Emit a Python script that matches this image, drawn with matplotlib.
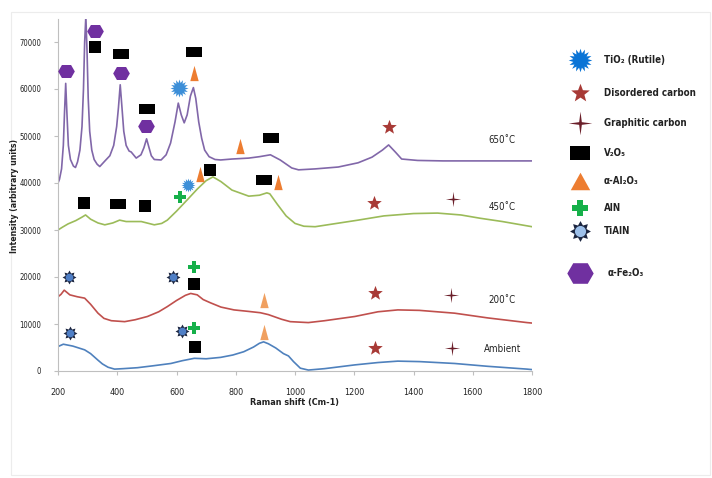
import numpy as np
import matplotlib
matplotlib.use("Agg")
import matplotlib.pyplot as plt
from matplotlib.patches import Rectangle

plt.rcParams['font.family'] = ['DejaVu Sans']
plt.rcParams['font.stretch'] = 'condensed'

# ---------------- data ----------------
x_650 = [200, 205, 212, 218, 222, 226, 230, 235, 242, 252, 259, 266, 274, 281, 286, 290, 294, 298, 302, 307,
         314, 322, 332, 341, 360, 375, 388, 398, 404, 410, 416, 422, 430, 440, 447, 464, 480, 490, 499, 506,
         515, 525, 548, 565, 580, 595, 606, 616, 626, 636, 647, 657, 665, 675, 685, 695, 710, 730, 749, 787,
         844, 880, 917, 950, 989, 1012, 1068, 1146, 1213, 1260, 1295, 1316, 1340, 1360, 1414, 1500, 1600,
         1700, 1800]
y_650 = [40000, 40800, 43000, 48000, 55000, 61200, 55000, 48000, 45000, 43600, 43300, 44500, 47000, 52000,
         60000, 70000, 75500, 68000, 58000, 51000, 47000, 45000, 44000, 43500, 44800, 45800, 48000, 52000,
         56000, 60900, 56000, 51000, 48000, 46800, 46600, 45300, 46000, 47500, 49400, 47800, 45800, 45000,
         44900, 46000, 48500, 53000, 57000, 54500, 52800, 54500, 58500, 60300, 58000, 53000, 49500, 47000,
         45600, 45000, 44900, 45100, 45300, 45600, 46000, 44900, 43200, 42800, 43000, 43400, 44300, 45500,
         47000, 48100, 46500, 45100, 44800, 44700, 44700, 44700, 44700]

x_450 = [200, 215, 234, 260, 280, 293, 310, 335, 358, 385, 408, 430, 481, 525, 550, 569, 600, 636, 670, 700,
         723, 750, 787, 844, 880, 905, 915, 940, 970, 1000, 1030, 1068, 1130, 1213, 1300, 1400, 1481, 1560,
         1625, 1700, 1800]
y_450 = [30000, 30600, 31300, 32000, 32700, 33200, 32300, 31500, 31100, 31500, 32100, 31800, 31800, 31100,
         31400, 32100, 34000, 36400, 38700, 40500, 41300, 40300, 38500, 37200, 37400, 37900, 37700, 35500,
         33000, 31400, 30800, 30700, 31300, 32100, 33000, 33500, 33600, 33200, 32500, 31800, 30700]

x_200 = [200, 210, 221, 240, 265, 290, 310, 335, 355, 380, 425, 460, 502, 540, 569, 600, 630, 648, 670, 690,
         715, 750, 794, 840, 883, 910, 928, 955, 984, 1045, 1100, 1202, 1280, 1347, 1420, 1539, 1650, 1783, 1800]
y_200 = [15800, 16300, 17200, 16200, 15800, 15500, 14200, 12300, 11200, 10700, 10500, 10900, 11600, 12600,
         13700, 15000, 16100, 16500, 16200, 15200, 14500, 13600, 13000, 12700, 12400, 12000, 11600, 11000,
         10500, 10300, 10700, 11600, 12600, 13000, 12900, 12300, 11300, 10300, 10200]

x_amb = [200, 218, 250, 290, 310, 335, 350, 369, 391, 420, 468, 520, 581, 620, 660, 700, 749, 790, 827, 860,
         880, 894, 910, 935, 961, 978, 995, 1018, 1045, 1100, 1202, 1280, 1347, 1420, 1539, 1650, 1783, 1800]
y_amb = [5200, 5700, 5300, 4500, 3700, 2300, 1500, 800, 400, 500, 700, 1100, 1600, 2200, 2700, 2600, 2900,
         3400, 4100, 5100, 5900, 6200, 5800, 4900, 3700, 3200, 2000, 600, 200, 500, 1300, 1800, 2100, 2000,
         1600, 1000, 400, 300]

series_labels = ['650˚C', '450˚C', '200˚C', 'Ambient']
series_label_y = [49100, 35000, 15100, 4600]

# annotation marker positions (Raman shift, intensity)
fe2o3_x = [226, 324, 411, 498]
fe2o3_y = [63800, 72300, 63400, 52100]
v2o5_sq_x = [324, 288, 494, 713, 660, 662]
v2o5_sq_y = [68900, 35700, 35100, 42800, 18600, 5200]
v2o5_rect_x = [414, 499, 660, 920, 402, 894]
v2o5_rect_y = [67400, 55700, 67800, 49600, 35500, 40600]
tio2_x = [607, 640]
tio2_y = [60300, 39600]
al2o3_x = [660, 816, 680, 941, 897, 897]
al2o3_y = [63500, 47900, 41900, 40300, 15100, 8400]
aln_x = [611, 660, 660]
aln_y = [37000, 22100, 9100]
tialn_x = [237, 587, 240, 617]
tialn_y = [19900, 20100, 8000, 8600]
dcarb_x = [1316, 1267, 1271, 1269]
dcarb_y = [52000, 35700, 16500, 5000]
gcarb_x = [1532, 1526, 1529]
gcarb_y = [36600, 16200, 4800]

legend_labels = ['TiO₂ (Rutile)', 'Disordered carbon', 'Graphitic carbon', 'V₂O₅',
                 'α-Al₂O₃', 'AlN', 'TiAlN', 'α-Fe₂O₃']

x_ticks = [200, 400, 600, 800, 1000, 1200, 1400, 1600, 1800]
y_ticks = [0, 10000, 20000, 30000, 40000, 50000, 60000, 70000]

# ---------------- marker shapes ----------------
def star_verts(n, inner, rot=np.pi / 2):
    ang = np.arange(2 * n) * np.pi / n + rot
    r = np.where(np.arange(2 * n) % 2 == 0, 1.0, inner)
    return list(zip(r * np.cos(ang), r * np.sin(ang)))

BURST = star_verts(16, 0.62)
STAR5 = star_verts(5, 0.42)
STAR4 = star_verts(4, 0.16)
STAR8 = star_verts(8, 0.62)
HEX = [(-1, 0), (-0.55, 0.78), (0.55, 0.78), (1, 0), (0.55, -0.78), (-0.55, -0.78)]
SQ = [(-1, -1), (1, -1), (1, 1), (-1, 1)]
RECT = [(-1, -0.68), (1, -0.68), (1, 0.68), (-1, 0.68)]
TRI_N = [(-0.55, -1), (0.55, -1), (0, 1)]
TRI = [(-1, -0.9), (1, -0.9), (0, 0.9)]

C_FE = '#7030a0'
C_TIO2 = '#3d8fd8'
C_TIO2_LEG = '#0a74d6'
C_AL = '#ed7d31'
C_ALN = '#16b04a'
C_DC = '#a83a36'
C_GC = '#6b1f2a'
C_TIALN = '#4f7fc6'
C_TIALN_EDGE = '#1b2540'
TXT = '#222222'

fig = plt.figure(figsize=(7.12, 4.78), dpi=100)
ax = fig.add_axes([58 / 712, 1 - 371 / 478, (532 - 58) / 712, (371 - 18.5) / 478])

line_cols = ['#8167a9', '#9bbb59', '#c0504d', '#4f81bd']
for xs, ys, c in zip([x_650, x_450, x_200, x_amb], [y_650, y_450, y_200, y_amb], line_cols):
    ax.plot(xs, ys, color=c, lw=1.2, solid_joinstyle='round')

ax.set_xlim(200, 1800)
ax.set_ylim(0, 75000)
ax.set_xticks(x_ticks)
ax.set_yticks(y_ticks)
ax.set_xticklabels([str(v) for v in x_ticks])
ax.set_yticklabels([str(v) for v in y_ticks])
for s in ['top', 'right']:
    ax.spines[s].set_visible(False)
for s in ['left', 'bottom']:
    ax.spines[s].set_color('#bfbfbf')
    ax.spines[s].set_linewidth(0.8)
ax.tick_params(axis='both', colors='#bfbfbf', length=3, width=0.8, labelcolor=TXT)
ax.tick_params(axis='x', pad=9, labelsize=6.5)
ax.tick_params(axis='y', pad=9, labelsize=5.5)
ax.set_xlabel('Raman shift (Cm-1)', fontsize=6.5, fontweight='bold', labelpad=1, color=TXT)
fig.text(15 / 712, 1 - 196 / 478, 'Intensity (arbitrary units)', rotation=90, fontsize=6.3,
         fontweight='bold', ha='center', va='center', color=TXT)

for lab, yv in zip(series_labels, series_label_y):
    ax.text(1700, yv, lab, fontsize=7, ha='center', va='center', color=TXT, clip_on=False)

def mk(xs, ys, verts, ms, fc, ec='none', mew=0.0, z=5, axx=None):
    (axx or ax).plot(xs, ys, ls='none', marker=verts, ms=ms, mfc=fc, mec=ec, mew=mew, zorder=z, clip_on=False)

mk(fe2o3_x, fe2o3_y, HEX, 12, C_FE)
mk(v2o5_sq_x, v2o5_sq_y, SQ, 9, 'black')
mk(v2o5_rect_x, v2o5_rect_y, RECT, 11, 'black')
mk(tio2_x[:1], tio2_y[:1], BURST, 13, C_TIO2)
mk(tio2_x[1:], tio2_y[1:], BURST, 10, C_TIO2)
mk(al2o3_x[:4], al2o3_y[:4], TRI_N, 11, C_AL)
mk(al2o3_x[4:], al2o3_y[4:], TRI_N, 11, '#f0a060')
mk(aln_x, aln_y, 'P', 9, C_ALN)
mk(tialn_x, tialn_y, STAR8, 10, C_TIALN_EDGE)
mk(tialn_x, tialn_y, 'o', 5.5, C_TIALN, z=6)
mk(dcarb_x, dcarb_y, STAR5, 11, C_DC)
mk(gcarb_x, gcarb_y, STAR4, 11, C_GC)

# ---------------- legend (pixel overlay) ----------------
ov = fig.add_axes([0, 0, 1, 1], zorder=-1)
ov.set_xlim(0, 712)
ov.set_ylim(478, 0)
ov.axis('off')
ov.add_patch(Rectangle((11, 12), 699, 463, fill=False, ec='#ececec', lw=0.8))

ov2 = fig.add_axes([0, 0, 1, 1], zorder=3)
ov2.set_xlim(0, 712)
ov2.set_ylim(478, 0)
ov2.axis('off')
leg_y = [60, 93, 123, 153, 181, 208, 231, 273]
leg_specs = [(BURST, 17, C_TIO2_LEG), (STAR5, 14, C_DC), (STAR4, 17, C_GC), (RECT, 15, 'black'),
             (TRI, 14, C_AL), ('P', 11, C_ALN), (STAR8, 15, C_TIALN_EDGE), (HEX, 19, C_FE)]
for yv, (v, ms, c), lab in zip(leg_y, leg_specs, legend_labels):
    mk([580], [yv], v, ms, c, axx=ov2)
    tx = 608 if lab.startswith('α-Fe') else 604
    ov2.text(tx, yv, lab, fontsize=7, fontweight='bold', va='center', ha='left', color=TXT)
mk([580], [231], 'o', 8, '#9dc0ea', axx=ov2)

fig.savefig('out.png', dpi=100)
